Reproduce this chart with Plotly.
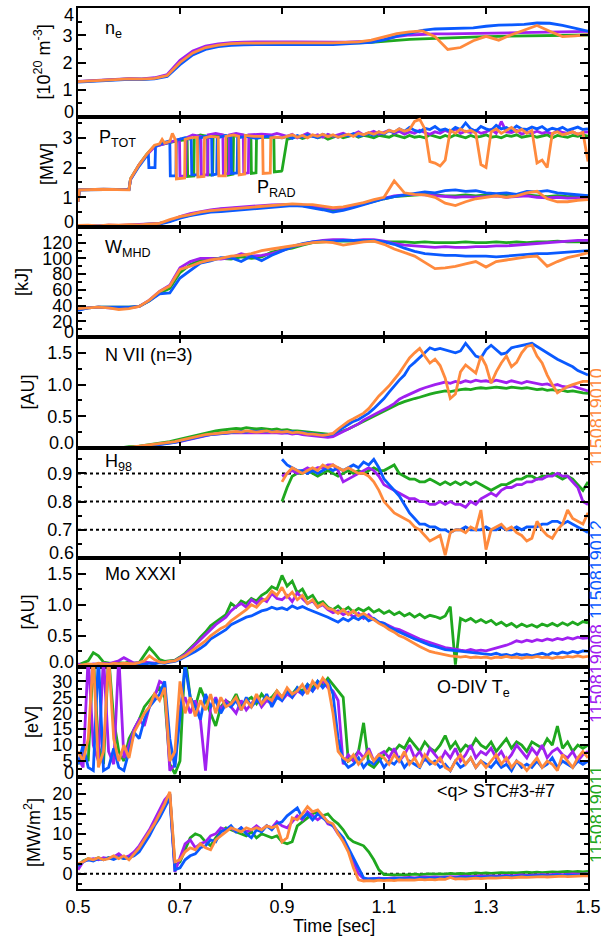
import numpy as np
import plotly.graph_objects as go

# ---------------- series meta ----------------
SHOTS = ["1150819011", "1150819008", "1150819012", "1150819010"]   # draw order
COLORS = {"1150819011": "#1fa81f", "1150819008": "#a020f0",
          "1150819012": "#0a5aff", "1150819010": "#ff8a3d"}

# time grids
T025 = np.round(np.arange(0.5, 1.50001, 0.025), 4)   # 41
T02 = np.round(np.arange(0.5, 1.50001, 0.02), 4)     # 51
T01 = np.round(np.arange(0.5, 1.50001, 0.01), 4)     # 101
TH = np.round(np.arange(0.9, 1.50001, 0.01), 4)      # 61

# ---------------- n_e [1e20 m^-3] (T025) ----------------
NE_012 = [1.28,1.31,1.34,1.36,1.38,1.37,1.40,1.49,1.92,2.28,
          2.48,2.58,2.63,2.65,2.66,2.66,2.66,2.66,2.66,2.65,
          2.66,2.68,2.70,2.74,2.83,2.97,3.07,3.18,3.23,3.25,
          3.25,3.27,3.33,3.37,3.38,3.40,3.45,3.44,3.36,3.26,
          3.15]
NE_010 = [1.30,1.33,1.36,1.38,1.40,1.39,1.42,1.52,2.00,2.35,
          2.55,2.64,2.69,2.71,2.72,2.72,2.72,2.72,2.72,2.71,
          2.72,2.74,2.76,2.82,2.93,3.06,3.12,3.16,2.95,2.48,
          2.55,2.80,2.96,2.82,3.02,3.18,3.36,3.15,2.95,2.98,
          3.02]
NE_008 = [1.31,1.34,1.37,1.39,1.41,1.40,1.44,1.56,2.08,2.42,
          2.60,2.68,2.73,2.75,2.76,2.76,2.76,2.76,2.75,2.75,
          2.75,2.75,2.76,2.78,2.85,2.95,3.01,3.04,3.05,3.05,
          3.06,3.07,3.07,3.08,3.08,3.10,3.10,3.12,3.12,3.13,
          3.14]
NE_011 = [1.30,1.33,1.36,1.38,1.40,1.39,1.42,1.52,2.00,2.36,
          2.56,2.65,2.70,2.72,2.73,2.73,2.73,2.72,2.72,2.72,
          2.71,2.71,2.72,2.74,2.78,2.82,2.85,2.87,2.89,2.91,
          2.92,2.93,2.95,2.96,2.97,2.98,2.99,3.00,3.00,3.01,
          3.01]

# ---------------- P_TOT [MW] : early (t, v) pairs + late values on TH ----------------
PTOT_012_EARLY = [(0.5,0.85),(0.503,1.25),(0.55,1.27),(0.6,1.26),(0.603,1.6),(0.62,2.05),(0.635,2.4),
    (0.638,2.45),(0.639,2.0),(0.651,2.0),(0.652,2.7),(0.66,2.78),(0.67,2.85),(0.68,2.9),(0.681,1.72),
    (0.692,1.72),(0.693,2.92),(0.71,3.0),(0.722,2.95),(0.723,1.75),(0.735,1.75),(0.736,2.98),(0.75,3.05),
    (0.762,3.0),(0.763,1.75),(0.772,1.78),(0.773,3.0),(0.79,3.08),(0.8,3.02),(0.801,1.8),(0.812,1.82),
    (0.813,3.0),(0.83,3.05),(0.85,2.98),(0.87,3.05),(0.89,3.0)]
PTOT_010_EARLY = [(0.5,0.85),(0.503,1.25),(0.55,1.27),(0.6,1.25),(0.603,1.62),(0.62,2.1),(0.635,2.45),
    (0.65,2.75),(0.66,2.8),(0.665,2.95),(0.67,2.82),(0.68,2.88),(0.685,3.15),(0.692,2.9),(0.693,1.62),
    (0.709,1.65),(0.71,2.95),(0.72,3.0),(0.734,3.02),(0.735,1.68),(0.747,1.7),(0.748,3.0),(0.76,3.05),
    (0.775,3.02),(0.776,1.72),(0.789,1.72),(0.79,3.05),(0.805,3.1),(0.815,3.05),(0.816,1.75),(0.827,1.78),
    (0.828,3.08),(0.845,3.05),(0.862,3.05),(0.863,1.8),(0.877,1.82),(0.878,3.0),(0.89,3.02)]
PTOT_008_EARLY = [(0.5,0.85),(0.503,1.25),(0.6,1.27),(0.603,1.6),(0.62,2.1),(0.635,2.42),(0.65,2.7),
    (0.67,2.8),(0.69,2.9),(0.699,2.95),(0.7,1.7),(0.711,1.72),(0.712,3.0),(0.725,3.1),(0.741,3.05),
    (0.742,1.75),(0.754,1.75),(0.755,3.1),(0.77,3.15),(0.784,3.1),(0.785,1.78),(0.796,1.8),(0.797,3.1),
    (0.81,3.15),(0.824,3.1),(0.825,1.8),(0.834,1.82),(0.835,3.1),(0.86,3.12),(0.88,3.1),(0.89,3.15)]
PTOT_011_EARLY = [(0.5,0.85),(0.503,1.25),(0.6,1.27),(0.603,1.62),(0.62,2.1),(0.635,2.45),(0.65,2.72),
    (0.67,2.8),(0.69,2.88),(0.714,2.95),(0.715,1.7),(0.727,1.72),(0.728,3.02),(0.74,3.1),(0.754,3.05),
    (0.755,1.75),(0.764,1.75),(0.765,3.08),(0.78,3.1),(0.794,3.05),(0.795,1.75),(0.804,1.78),(0.805,3.05),
    (0.82,3.1),(0.839,3.05),(0.84,1.8),(0.849,1.82),(0.85,3.0),(0.87,3.02),(0.884,3.0),(0.885,1.85),
    (0.899,1.88)]
PTOT_012_LATE = [3.00,3.05,2.98,3.08,3.02,3.10,3.04,3.00,3.12,3.05,
                 3.08,3.02,3.10,3.06,3.14,3.05,3.10,3.15,3.08,3.20,
                 3.12,3.25,3.18,3.30,3.22,3.35,3.25,3.20,3.32,3.28,
                 3.38,3.25,3.30,3.22,3.35,3.28,3.50,3.30,3.22,3.38,
                 3.30,3.25,3.42,3.30,3.35,3.25,3.40,3.30,3.28,3.36,
                 3.30,3.38,3.25,3.32,3.28,3.35,3.25,3.30,3.36,3.28,
                 3.30]
PTOT_010_LATE = [3.00,3.05,3.10,3.02,3.08,3.00,3.10,3.05,3.12,3.04,
                 3.10,3.02,3.08,3.12,3.05,3.15,3.10,3.18,3.12,3.20,
                 3.15,3.25,3.20,3.30,3.22,3.28,3.55,3.62,3.30,2.20,
                 2.15,2.05,2.25,3.25,3.15,3.30,3.20,3.25,3.15,2.10,
                 2.00,3.20,3.30,3.15,3.25,3.35,3.20,3.28,3.15,3.25,
                 2.15,2.25,2.00,3.15,3.20,3.10,3.15,3.20,3.12,3.18,
                 2.20]
PTOT_008_LATE = [3.10,3.05,3.12,3.00,3.08,3.15,3.05,3.10,3.02,3.12,
                 3.05,3.10,3.15,3.08,3.12,3.20,3.10,3.15,3.22,3.12,
                 3.18,3.25,3.15,3.22,3.12,3.20,3.15,3.25,3.18,3.12,
                 3.20,3.15,3.25,3.18,3.30,3.15,3.22,3.18,3.25,3.15,
                 3.20,3.28,3.15,3.55,3.20,3.18,3.25,3.12,3.20,3.15,
                 3.22,3.15,3.20,3.12,3.25,3.18,3.15,3.20,3.12,3.18,
                 3.20]
PTOT_011_LATE = [1.90,2.95,3.00,3.05,2.98,3.02,3.08,3.00,3.05,2.95,
                 3.02,3.08,3.00,3.05,3.10,3.02,3.08,3.05,3.00,3.08,
                 3.05,3.02,3.10,3.05,3.00,3.08,3.02,3.05,3.00,3.10,
                 3.05,3.00,3.08,3.02,3.10,3.05,3.00,3.08,3.02,3.05,
                 3.10,3.02,3.05,3.00,3.08,3.05,3.10,3.02,3.05,3.08,
                 3.02,3.05,3.10,3.00,3.08,3.05,3.02,3.08,3.05,3.10,
                 3.05]

# ---------------- P_RAD [MW] (T02) ----------------
PRAD_012 = [0.02,0.03,0.02,0.04,0.03,0.05,0.04,0.06,0.10,0.18,
            0.30,0.38,0.45,0.50,0.52,0.55,0.58,0.60,0.62,0.66,
            0.70,0.72,0.70,0.65,0.58,0.50,0.56,0.65,0.75,0.85,
            0.95,1.02,1.08,1.12,1.18,1.15,1.22,1.25,1.20,1.22,
            1.15,1.12,1.15,1.10,1.20,1.18,1.22,1.15,1.12,1.08,
            1.05]
PRAD_010 = [0.05,0.06,0.04,0.07,0.06,0.08,0.07,0.10,0.12,0.25,
            0.35,0.42,0.50,0.55,0.58,0.60,0.65,0.68,0.70,0.72,
            0.75,0.78,0.76,0.75,0.70,0.65,0.68,0.75,0.82,0.92,
            1.00,1.55,1.15,1.10,1.08,1.00,0.80,0.72,0.85,0.95,
            1.00,1.05,1.00,1.05,1.15,1.20,0.95,0.85,0.85,0.90,
            0.92]
PRAD_008 = [0.03,0.05,0.04,0.06,0.05,0.07,0.08,0.09,0.12,0.20,
            0.35,0.45,0.52,0.58,0.62,0.65,0.68,0.70,0.72,0.74,
            0.75,0.76,0.74,0.72,0.68,0.62,0.65,0.72,0.80,0.90,
            0.98,1.05,1.08,1.10,1.08,1.05,1.02,1.00,1.02,1.00,
            1.02,1.05,1.00,1.02,1.05,1.00,0.98,1.00,0.97,0.98,
            0.98]
PRAD_011 = [0.02,0.04,0.03,0.05,0.04,0.06,0.07,0.08,0.12,0.20,
            0.32,0.40,0.48,0.55,0.60,0.62,0.66,0.68,0.70,0.72,
            0.74,0.75,0.72,0.68,0.62,0.58,0.60,0.68,0.76,0.86,
            0.95,1.02,1.05,1.08,1.10,1.08,1.05,1.05,1.08,1.05,
            1.08,1.05,1.10,1.05,1.08,1.05,1.02,1.05,1.02,1.05,
            1.05]

# ---------------- W_MHD [kJ] (T02) ----------------
W_012 = [34,37,38,38,38,38,39,46,55,56,
         75,84,94,97,101,101,96,103,97,104,
         110,115,119,121,122,122,123,123,123,123,
         121,118,113,109,106,105,104,104,103,103,
         103,102,103,104,105,106,106,107,108,109,
         110]
W_010 = [36,37,38,37,35,36,39,47,58,65,
         86,90,95,98,100,103,104,106,110,112,
         114,116,118,120,121,120,117,119,121,122,
         118,112,107,103,95,87,88,90,93,96,
         89,96,98,100,102,103,90,96,101,104,
         107]
W_008 = [35,37,38,37,36,37,39,47,58,66,
         88,96,100,100,99,101,106,103,104,106,
         110,115,118,121,123,124,124,123,124,124,
         122,119,117,116,115,114,115,114,114,115,
         115,116,116,117,118,119,120,121,122,123,
         123]
W_011 = [35,37,38,38,38,38,39,46,56,62,
         82,92,98,100,100,99,102,100,102,108,
         111,113,117,120,121,122,122,122,122,122,
         121,121,121,120,121,120,120,120,121,120,
         120,121,120,121,120,121,121,122,121,121,
         121]

# ---------------- N VII (n=3) [AU] (T01) ----------------
NV_012 = [0.00,0.00,0.01,0.00,0.01,0.00,0.00,0.01,0.00,0.01,
          0.01,0.01,0.02,0.02,0.03,0.04,0.05,0.06,0.07,0.09,
          0.11,0.13,0.15,0.17,0.19,0.20,0.21,0.22,0.23,0.24,
          0.25,0.25,0.26,0.25,0.27,0.26,0.27,0.26,0.26,0.27,
          0.26,0.25,0.26,0.24,0.25,0.23,0.22,0.21,0.20,0.20,
          0.22,0.27,0.33,0.38,0.42,0.45,0.50,0.55,0.62,0.70,
          0.78,0.88,0.98,1.07,1.15,1.28,1.35,1.42,1.50,1.58,
          1.55,1.57,1.55,1.52,1.50,1.53,1.65,1.55,1.45,1.42,
          1.55,1.62,1.55,1.48,1.50,1.58,1.60,1.62,1.64,1.65,
          1.60,1.55,1.50,1.44,1.40,1.36,1.32,1.28,1.22,1.18,
          1.15]
NV_010 = [0.01,0.00,0.00,0.01,0.00,0.01,0.00,0.00,0.01,0.00,
          0.01,0.02,0.02,0.03,0.04,0.05,0.06,0.07,0.08,0.10,
          0.12,0.14,0.16,0.18,0.20,0.21,0.22,0.23,0.24,0.24,
          0.25,0.26,0.25,0.27,0.26,0.25,0.26,0.27,0.25,0.26,
          0.25,0.26,0.24,0.25,0.24,0.22,0.22,0.21,0.20,0.21,
          0.23,0.30,0.36,0.42,0.46,0.50,0.55,0.62,0.72,0.82,
          0.90,0.98,1.08,1.18,1.30,1.42,1.50,1.57,1.45,1.34,
          1.40,1.30,1.10,0.78,0.85,1.20,1.31,1.25,1.18,1.45,
          1.30,1.02,1.20,1.34,1.45,1.28,1.35,1.50,1.60,1.62,
          1.45,1.34,1.15,1.00,0.87,0.92,0.97,1.00,1.02,1.05,
          1.05]
NV_008 = [0.00,0.01,0.00,0.00,0.01,0.00,0.01,0.00,0.00,0.01,
          0.01,0.01,0.02,0.03,0.03,0.04,0.05,0.06,0.07,0.08,
          0.10,0.12,0.14,0.16,0.18,0.20,0.21,0.22,0.22,0.23,
          0.24,0.24,0.25,0.24,0.25,0.24,0.25,0.24,0.25,0.24,
          0.23,0.24,0.22,0.23,0.21,0.20,0.19,0.18,0.17,0.17,
          0.18,0.22,0.26,0.30,0.34,0.38,0.44,0.48,0.52,0.56,
          0.60,0.65,0.70,0.77,0.81,0.85,0.89,0.92,0.95,0.98,
          1.00,1.02,1.04,1.02,1.05,1.03,1.06,1.04,1.07,1.05,
          1.06,1.04,1.07,1.05,1.03,1.06,1.04,1.02,1.05,1.03,
          1.02,1.00,1.01,0.98,1.00,0.97,0.96,0.98,0.95,0.93,
          0.90]
NV_011 = [0.01,0.00,0.01,0.01,0.00,0.01,0.01,0.00,0.01,0.01,
          0.02,0.02,0.03,0.04,0.05,0.06,0.07,0.08,0.10,0.12,
          0.14,0.16,0.18,0.20,0.22,0.24,0.25,0.27,0.28,0.29,
          0.30,0.31,0.30,0.32,0.31,0.30,0.31,0.30,0.29,0.30,
          0.28,0.29,0.27,0.27,0.26,0.25,0.24,0.23,0.22,0.22,
          0.22,0.24,0.27,0.30,0.34,0.38,0.42,0.46,0.50,0.55,
          0.58,0.62,0.66,0.70,0.73,0.76,0.78,0.80,0.83,0.85,
          0.87,0.88,0.90,0.89,0.91,0.92,0.93,0.92,0.94,0.95,
          0.94,0.95,0.96,0.95,0.94,0.96,0.95,0.94,0.95,0.93,
          0.92,0.93,0.91,0.92,0.90,0.91,0.89,0.90,0.88,0.87,
          0.86]

# ---------------- H98 (TH) ----------------
H98_012 = [0.95,0.93,0.92,0.91,0.91,0.90,0.91,0.90,0.91,0.92,
           0.91,0.92,0.91,0.92,0.93,0.92,0.94,0.93,0.95,0.92,
           0.88,0.86,0.84,0.82,0.79,0.76,0.74,0.72,0.72,0.71,
           0.71,0.70,0.70,0.69,0.70,0.70,0.71,0.70,0.70,0.70,
           0.71,0.70,0.70,0.71,0.70,0.70,0.71,0.70,0.71,0.71,
           0.71,0.72,0.72,0.73,0.73,0.72,0.73,0.72,0.71,0.70,
           0.69]
H98_010 = [0.87,0.90,0.92,0.91,0.90,0.91,0.92,0.91,0.93,0.92,
           0.93,0.92,0.91,0.92,0.91,0.90,0.90,0.89,0.87,0.84,
           0.80,0.78,0.76,0.75,0.74,0.73,0.71,0.70,0.68,0.66,
           0.67,0.68,0.61,0.69,0.70,0.70,0.69,0.71,0.70,0.77,
           0.63,0.70,0.71,0.72,0.70,0.71,0.69,0.68,0.66,0.67,
           0.73,0.70,0.68,0.67,0.70,0.72,0.77,0.74,0.73,0.72,
           0.76]
H98_008 = [0.89,0.90,0.91,0.90,0.91,0.92,0.91,0.92,0.92,0.93,
           0.93,0.91,0.87,0.88,0.89,0.90,0.91,0.92,0.91,0.89,
           0.86,0.85,0.84,0.83,0.82,0.81,0.81,0.80,0.80,0.79,
           0.79,0.80,0.79,0.80,0.79,0.79,0.78,0.80,0.79,0.81,
           0.82,0.83,0.82,0.84,0.85,0.85,0.86,0.86,0.87,0.87,
           0.88,0.88,0.89,0.89,0.90,0.89,0.89,0.87,0.85,0.80,
           0.79]
H98_011 = [0.80,0.85,0.89,0.90,0.90,0.91,0.90,0.89,0.90,0.91,
           0.90,0.89,0.90,0.91,0.90,0.91,0.90,0.91,0.92,0.91,
           0.91,0.92,0.93,0.90,0.89,0.88,0.88,0.87,0.87,0.88,
           0.87,0.86,0.87,0.86,0.87,0.86,0.87,0.86,0.87,0.86,
           0.85,0.84,0.85,0.86,0.86,0.87,0.88,0.88,0.89,0.89,
           0.88,0.89,0.89,0.90,0.89,0.88,0.89,0.88,0.86,0.84,
           0.87]
H98_REF = [0.7, 0.8, 0.9]

# ---------------- Mo XXXI [AU] (T01) ----------------
MO_012 = [0.00,0.01,0.00,0.02,0.01,0.00,0.02,0.01,0.03,0.02,
          0.04,0.03,0.05,0.04,0.06,0.05,0.07,0.06,0.08,0.09,
          0.12,0.16,0.20,0.25,0.30,0.36,0.45,0.50,0.55,0.60,
          0.68,0.72,0.76,0.80,0.82,0.86,0.90,0.92,0.96,0.93,
          0.95,0.92,0.98,0.94,0.97,0.93,0.90,0.86,0.84,0.80,
          0.76,0.72,0.78,0.74,0.80,0.76,0.82,0.74,0.78,0.72,
          0.70,0.64,0.60,0.56,0.52,0.48,0.45,0.42,0.38,0.35,
          0.33,0.30,0.28,0.27,0.26,0.25,0.24,0.23,0.22,0.22,
          0.21,0.20,0.22,0.19,0.20,0.18,0.21,0.19,0.20,0.18,
          0.20,0.22,0.19,0.23,0.21,0.24,0.22,0.25,0.23,0.26,
          0.25]
MO_010 = [0.02,0.03,0.05,0.04,0.06,0.05,0.04,0.06,0.05,0.06,
          0.06,0.05,0.07,0.10,0.18,0.12,0.08,0.07,0.09,0.10,
          0.14,0.18,0.24,0.30,0.36,0.42,0.50,0.56,0.62,0.66,
          0.74,0.80,0.86,0.92,1.00,0.96,1.05,1.10,1.22,1.15,
          1.28,1.12,1.20,1.08,1.15,1.02,1.08,0.96,1.02,0.94,
          0.92,0.86,0.92,0.84,0.90,0.82,0.86,0.80,0.76,0.70,
          0.66,0.60,0.56,0.50,0.47,0.42,0.38,0.33,0.29,0.25,
          0.23,0.21,0.20,0.18,0.17,0.16,0.17,0.15,0.16,0.15,
          0.16,0.14,0.16,0.15,0.17,0.15,0.16,0.14,0.16,0.15,
          0.17,0.15,0.16,0.14,0.16,0.15,0.17,0.16,0.18,0.16,
          0.17]
MO_008 = [0.05,0.02,0.03,0.05,0.04,0.06,0.05,0.08,0.10,0.15,
          0.10,0.06,0.07,0.08,0.07,0.06,0.08,0.07,0.09,0.10,
          0.15,0.20,0.28,0.36,0.44,0.52,0.60,0.68,0.74,0.80,
          0.90,0.97,1.02,0.96,1.08,1.02,1.10,1.05,1.18,1.10,
          1.08,1.15,1.05,1.19,1.10,1.02,1.06,0.96,1.00,0.92,
          0.87,0.90,0.84,0.88,0.80,0.86,0.78,0.84,0.76,0.72,
          0.70,0.66,0.62,0.60,0.56,0.52,0.48,0.45,0.42,0.39,
          0.36,0.34,0.31,0.30,0.28,0.27,0.26,0.28,0.26,0.27,
          0.26,0.28,0.30,0.32,0.35,0.38,0.42,0.40,0.43,0.41,
          0.44,0.42,0.45,0.43,0.46,0.44,0.47,0.45,0.48,0.46,
          0.47]
MO_011 = [0.03,0.06,0.10,0.23,0.18,0.08,0.06,0.05,0.07,0.06,
          0.08,0.06,0.07,0.20,0.31,0.22,0.12,0.09,0.10,0.11,
          0.16,0.22,0.30,0.38,0.48,0.56,0.66,0.72,0.78,0.84,
          1.02,0.96,1.06,1.02,1.10,1.06,1.15,1.20,1.29,1.25,
          1.47,1.30,1.38,1.19,1.25,1.10,1.15,1.02,1.05,0.96,
          0.92,0.98,0.90,0.96,0.88,0.94,0.90,0.95,0.88,0.92,
          0.86,0.90,0.84,0.88,0.82,0.86,0.80,0.85,0.79,0.83,
          0.81,0.78,0.82,0.97,0.04,0.78,0.74,0.78,0.72,0.76,
          0.71,0.75,0.68,0.72,0.66,0.70,0.64,0.69,0.65,0.68,
          0.64,0.69,0.66,0.70,0.66,0.71,0.67,0.72,0.68,0.73,
          0.71]

# ---------------- O-DIV Te [eV] (T01) ----------------
TE_012 = [4,10,3,2,38,2,3,9,3,2,
          8,14,12,18,22,24,26,30,12,3,
          20,35,25,22,18,26,22,24,20,23,
          22,24,21,25,22,24,23,26,22,25,
          24,27,25,28,26,29,27,30,28,30,
          26,12,5,3,4,6,3,5,4,6,
          3,5,4,6,3,5,4,3,6,4,
          5,3,4,2,5,3,4,6,3,5,
          4,3,5,3,4,2,5,3,4,3,
          5,3,4,6,3,5,4,3,5,4,
          5]
TE_010 = [8,5,12,38,3,8,38,12,5,10,
          6,14,17,20,22,26,24,28,5,8,
          30,20,25,19,24,21,26,20,25,22,
          23,25,21,24,22,26,23,25,24,27,
          25,28,26,27,29,26,30,28,31,29,
          20,8,6,5,7,4,6,8,5,7,
          6,4,7,5,8,4,6,3,7,5,
          4,6,3,2,5,7,4,6,3,5,
          3,5,7,4,6,3,5,4,2,4,
          6,3,5,4,2,7,5,3,6,8,
          6]
TE_008 = [6,3,38,10,5,38,8,4,38,6,
          10,15,18,16,22,25,30,29,2,4,
          22,25,20,24,18,2,22,25,21,24,
          22,20,24,21,23,25,22,24,23,26,
          24,26,25,27,26,28,27,29,30,28,
          27,24,4,7,5,8,6,9,5,7,
          8,6,9,5,7,10,6,8,5,9,
          7,5,8,6,9,5,7,10,6,8,
          7,9,6,8,5,7,10,8,6,9,
          7,10,6,8,9,7,6,8,5,7,
          8]
TE_011 = [4,7,5,38,10,4,38,18,8,5,
          12,15,18,22,24,26,28,25,4,1,
          5,38,25,22,28,24,20,16,22,24,
          23,26,22,24,25,23,26,24,25,27,
          25,27,26,28,27,29,28,30,29,31,
          29,27,25,5,6,8,17,4,3,5,
          7,9,8,10,9,12,10,8,11,9,
          8,10,13,9,11,8,10,9,12,10,
          9,11,8,10,12,9,11,10,8,11,
          10,9,12,10,16,9,11,8,10,9,
          10]

# ---------------- <q> STC#3-#7 [MW/m^2] (T01) ----------------
Q_012 = [2.0,3.0,3.5,3.2,3.8,3.5,4.0,3.6,4.2,3.8,
         4.0,4.5,5.5,7.5,9.5,12.0,14.0,16.5,19.0,1.0,
         1.5,3.5,4.5,5.0,6.5,7.0,8.5,8.0,10.5,11.0,
         12.0,10.5,11.5,10.0,9.0,11.0,10.5,12.0,11.0,12.5,
         13.0,14.5,15.5,16.5,14.0,15.0,13.5,15.0,14.0,13.0,
         12.0,10.5,9.0,6.5,4.0,1.5,-1.0,-1.3,-1.2,-1.3,
         -1.2,-1.3,-1.2,-1.1,-1.2,-1.1,-1.2,-1.0,-1.1,-1.0,
         -1.1,-1.0,-1.0,-0.9,-1.0,-0.8,-0.9,-0.8,-0.9,-0.8,
         -0.8,-0.7,-0.8,-0.7,-0.6,-0.7,-0.6,-0.5,-0.6,-0.5,
         -0.5,-0.4,-0.5,-0.4,-0.3,-0.4,-0.3,-0.4,-0.3,-0.3,
         -0.3]
Q_010 = [2.5,3.0,3.8,3.5,4.0,3.5,3.8,4.5,3.8,4.5,
         3.5,5.0,6.5,8.5,10.5,12.5,15.0,17.5,20.5,3.0,
         3.5,5.5,6.5,6.0,7.5,6.5,6.0,8.5,9.5,10.5,
         11.5,11.0,10.5,11.5,11.0,11.5,11.0,12.0,11.5,12.0,
         8.0,9.0,14.0,13.5,15.0,16.8,15.5,16.0,14.5,13.0,
         12.5,10.0,8.0,5.5,1.5,-1.5,-1.8,-1.7,-1.8,-1.6,
         -1.7,-1.6,-1.7,-1.5,-1.6,-1.5,-1.6,-1.4,-1.5,-1.4,
         -1.5,-1.3,-1.4,-0.9,-1.3,-1.2,-1.3,-1.2,-1.1,-1.2,
         -1.1,-1.0,-1.1,-1.0,-0.9,-1.0,-0.9,-0.8,-0.9,-0.8,
         -0.8,-0.7,-0.8,-0.7,-0.7,-0.6,-0.7,-0.6,-0.6,-0.5,
         -0.5]
Q_008 = [1.0,3.0,3.5,3.8,3.5,4.0,3.8,4.2,5.0,4.0,
         4.5,5.5,7.0,9.0,11.0,13.5,16.0,18.5,20.0,0.5,
         4.0,7.5,8.5,6.5,7.5,8.0,9.5,10.0,11.5,11.0,
         11.5,10.5,11.5,10.5,11.0,12.0,11.0,12.0,11.5,13.0,
         12.0,11.5,13.0,14.5,13.5,15.5,14.5,13.5,14.5,12.5,
         12.0,10.0,8.5,6.0,3.0,0.0,-1.2,-1.3,-1.2,-1.1,
         -1.2,-1.1,-1.0,-1.1,-1.0,-0.9,-1.0,-0.9,-0.8,-0.9,
         -0.8,-0.9,-0.8,-0.7,-0.8,-0.7,-0.6,-0.7,-0.6,-0.5,
         -0.6,-0.5,-0.6,-0.5,-0.4,-0.5,-0.4,-0.3,-0.4,-0.3,
         -0.3,-0.2,-0.3,-0.2,-0.1,-0.2,-0.1,0.0,-0.1,0.0,
         0.0]
Q_011 = [2.0,3.2,3.8,3.5,4.0,3.6,4.0,3.8,4.3,3.8,
         4.2,5.0,6.5,8.5,10.0,12.5,15.0,17.5,20.0,2.0,
         3.0,6.0,9.0,10.0,9.5,8.0,7.0,9.0,10.5,11.5,
         11.0,10.5,10.0,9.5,10.5,9.0,10.0,9.5,9.0,9.5,
         8.0,7.5,8.0,12.0,13.0,14.0,15.0,15.5,14.5,15.0,
         13.5,12.5,11.0,9.0,8.0,7.5,7.0,5.5,3.5,1.0,
         -0.2,-0.2,-0.3,-0.2,-0.3,-0.2,-0.1,-0.2,-0.1,0.0,
         -0.1,0.0,-0.1,0.1,0.0,0.1,0.0,0.1,0.2,0.1,
         0.2,0.1,0.2,0.3,0.2,0.3,0.2,0.3,0.4,0.3,
         0.4,0.3,0.4,0.5,0.4,0.5,0.6,0.5,0.6,0.5,
         0.6]
Q_REF = [0.0]

# ---------------- panel definitions ----------------
def split(pairs):
    return [p[0] for p in pairs], [p[1] for p in pairs]

def ptot(early, late):
    t, v = split(early)
    return t + list(TH), v + list(late)

P_SERIES = {
    "1150819012": ptot(PTOT_012_EARLY, PTOT_012_LATE),
    "1150819010": ptot(PTOT_010_EARLY, PTOT_010_LATE),
    "1150819008": ptot(PTOT_008_EARLY, PTOT_008_LATE),
    "1150819011": ptot(PTOT_011_EARLY, PTOT_011_LATE),
}

def grid(t, d):
    out = {}
    for k, v in d.items():
        if len(v) != len(t):
            raise ValueError(f"length mismatch {k}: {len(v)} vs {len(t)}")
        out[k] = (list(t), v)
    return out

# edge labels drawn separately (IDL nudges them inside the panel)
PANELS = [
    dict(series=[grid(T025, {"1150819012": NE_012, "1150819010": NE_010,
                             "1150819008": NE_008, "1150819011": NE_011})],
         rng=[0, 4.0], dtick=1, minor=0.5, fmt="d", title="[10<sup>20</sup> m<sup>-3</sup>]", tx=43,
         edge=[("0", 0, -5), ("4", 4, 7)]),
    dict(series=[P_SERIES,
                 grid(T02, {"1150819012": PRAD_012, "1150819010": PRAD_010,
                            "1150819008": PRAD_008, "1150819011": PRAD_011})],
         rng=[0, 3.7], dtick=1, minor=0.5, fmt="d", title="[MW]", tx=47, ty_off=-8,
         edge=[("0", 0, -5)]),
    dict(series=[grid(T02, {"1150819012": W_012, "1150819010": W_010,
                            "1150819008": W_008, "1150819011": W_011})],
         rng=[0, 140], dtick=20, minor=10, fmt="d", title="[kJ]", tx=22,
         edge=[("0", 0, -5), ("140", 140, None)]),
    dict(series=[grid(T01, {"1150819012": NV_012, "1150819010": NV_010,
                            "1150819008": NV_008, "1150819011": NV_011})],
         rng=[0, 1.75], dtick=0.5, minor=0.25, fmt=".1f", title="[AU]", tx=27,
         edge=[("0.0", 0, -5)]),
    dict(series=[grid(TH, {"1150819012": H98_012, "1150819010": H98_010,
                           "1150819008": H98_008, "1150819011": H98_011})],
         rng=[0.6, 0.99], dtick=0.1, minor=0.05, fmt=".1f", title=None, tx=0, refs=H98_REF,
         edge=[("0.6", 0.6, -5)]),
    dict(series=[grid(T01, {"1150819012": MO_012, "1150819010": MO_010,
                            "1150819008": MO_008, "1150819011": MO_011})],
         rng=[0, 1.75], dtick=0.5, minor=0.25, fmt=".1f", title="[AU]", tx=27,
         edge=[("0.0", 0, -5)]),
    dict(series=[grid(T01, {"1150819012": TE_012, "1150819010": TE_010,
                            "1150819008": TE_008, "1150819011": TE_011})],
         rng=[0, 34.5], dtick=5, minor=2.5, fmt="d", title="[eV]", tx=32,
         edge=[("0", 0, -4)]),
    dict(series=[grid(T01, {"1150819012": Q_012, "1150819010": Q_010,
                            "1150819008": Q_008, "1150819011": Q_011})],
         rng=[-3.8, 24.2], dtick=5, minor=2.5, fmt="d", title="[MW/m<sup>2</sup>]", tx=32, refs=Q_REF,
         edge=[]),
]

# ---------------- geometry (pixels) ----------------
W, H = 601, 941
L, R = 78, 588
BOUNDS = [8, 117, 227, 337, 448, 558, 667, 777, 889]
PLOT_H = BOUNDS[-1] - BOUNDS[0]

def fx(px):
    return (px - L) / (R - L)

def fy(py):
    return (BOUNDS[-1] - py) / PLOT_H

FONT = "Liberation Sans, Arial, Helvetica, sans-serif"
TICKFONT = dict(family=FONT, size=18, color="black")

fig = go.Figure()
layout = dict(template="none", width=W, height=H,
              margin=dict(l=L, r=W - R, t=BOUNDS[0], b=H - BOUNDS[-1], autoexpand=False),
              plot_bgcolor="white", paper_bgcolor="white", showlegend=False,
              font=dict(family=FONT, size=18, color="black"))

for i, p in enumerate(PANELS):
    n = i + 1
    xa, ya = f"x{n}", f"y{n}"
    for rv in p.get("refs", []):
        fig.add_trace(go.Scatter(x=[0.5, 1.5], y=[rv, rv], mode="lines", xaxis=xa, yaxis=ya,
                                 line=dict(color="black", width=2, dash="dot"), hoverinfo="skip"))
    for group in p["series"]:
        for shot in SHOTS:
            t, v = group[shot]
            fig.add_trace(go.Scatter(x=t, y=v, mode="lines", xaxis=xa, yaxis=ya,
                                     line=dict(color=COLORS[shot], width=2.8), name=shot))
    top, bot = BOUNDS[i], BOUNDS[i + 1]
    alias = {lab: " " for lab, _, _ in p["edge"]}
    layout[f"xaxis{n}"] = dict(domain=[0, 1], anchor=ya, range=[0.5, 1.5], tick0=0.5, dtick=0.2,
                               ticks="inside", ticklen=6, tickwidth=2, tickcolor="black",
                               showline=True, linewidth=2, linecolor="black", mirror="ticks",
                               showgrid=False, zeroline=False, showticklabels=(n == 8),
                               tickfont=TICKFONT, automargin=False,
                               **({} if n == 1 else dict(matches="x")))
    layout[f"yaxis{n}"] = dict(domain=[fy(bot), fy(top)], anchor=xa, range=p["rng"],
                               tick0=0, dtick=p["dtick"], tickformat=p["fmt"], labelalias=alias,
                               ticks="inside", ticklen=8, tickwidth=2, tickcolor="black",
                               minor=dict(dtick=p["minor"], ticks="inside", ticklen=4, tickwidth=1.5,
                                          tickcolor="black", showgrid=False),
                               showline=True, linewidth=2, linecolor="black", mirror="ticks",
                               showgrid=False, zeroline=False, automargin=False,
                               tickfont=TICKFONT)
    y0, y1 = p["rng"]
    for lab, val, dy in p["edge"]:
        if dy is None:
            continue
        py = bot + (top - bot) * (val - y0) / (y1 - y0) + dy
        fig.add_annotation(x=fx(76), y=fy(py), xref="paper", yref="paper", text=lab,
                           showarrow=False, xanchor="right", yanchor="middle", font=TICKFONT)
    if p["title"]:
        cy = (top + bot) / 2 + p.get("ty_off", 0)
        fig.add_annotation(x=fx(p["tx"]), y=fy(cy), xref="paper", yref="paper", text=p["title"],
                           textangle=-90, showarrow=False, xanchor="center", yanchor="middle",
                           font=dict(family=FONT, size=18, color="black"))

# panel labels (text, left px, centre px)
LABELS = [("n<sub>e</sub>", 103, 29), ("P<sub>TOT</sub>", 97, 139), ("P<sub>RAD</sub>", 255, 188),
          ("W<sub>MHD</sub>", 103, 248), ("N VII (n=3)", 103, 355), ("H<sub>98</sub>", 103, 463),
          ("Mo XXXI", 103, 574), ("O-DIV T<sub>e</sub>", 435, 688), ("&lt;q&gt; STC#3-#7", 435, 791)]
for txt, px, py in LABELS:
    fig.add_annotation(x=fx(px), y=fy(py), xref="paper", yref="paper", text=txt,
                       showarrow=False, xanchor="left", yanchor="middle",
                       font=dict(family=FONT, size=18, color="black"))

# shot labels on the right edge
SHOT_LABEL_Y = {"1150819010": 418, "1150819012": 570, "1150819008": 674, "1150819011": 815}
for shot, py in SHOT_LABEL_Y.items():
    fig.add_annotation(x=fx(597), y=fy(py), xref="paper", yref="paper", text=shot, textangle=-90,
                       showarrow=False, xanchor="center", yanchor="middle",
                       font=dict(family=FONT, size=18, color=COLORS[shot]))

fig.add_annotation(x=fx(334), y=fy(926), xref="paper", yref="paper", text="Time [sec]",
                   showarrow=False, xanchor="center", yanchor="middle",
                   font=dict(family=FONT, size=18, color="black"))

fig.update_layout(**layout)
fig.write_html("out.html", config={"displayModeBar": False},
               post_script="document.body.style.margin='0px';document.body.style.overflow='hidden';")
